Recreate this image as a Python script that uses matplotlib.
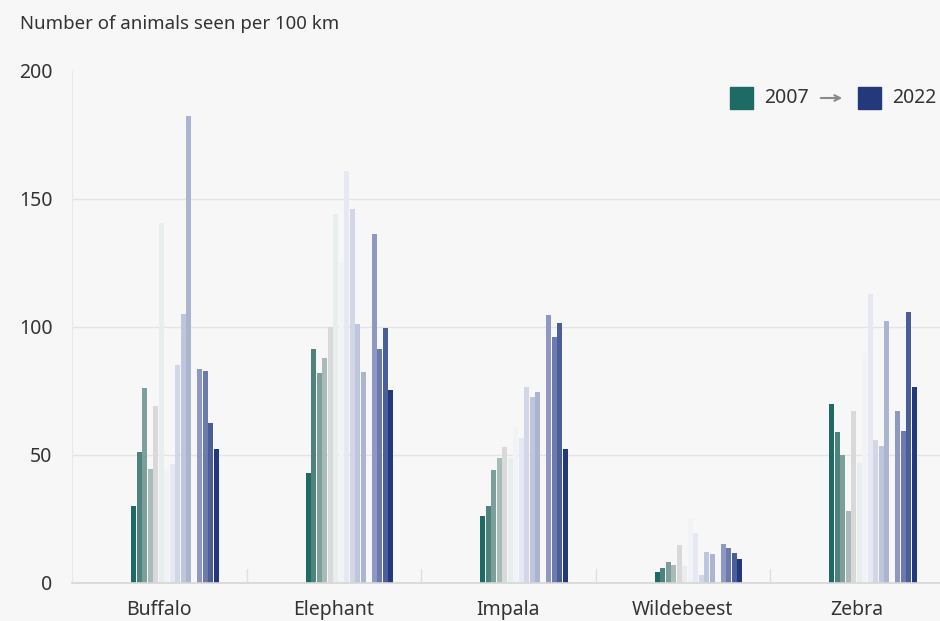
import numpy as np
import matplotlib
matplotlib.use("Agg")
import matplotlib.pyplot as plt
from matplotlib.patches import Rectangle

plt.rcParams['font.family'] = ['Noto Sans', 'DejaVu Sans']

# Data (2007 -> 2022, 2018 missing)
animals = ["Buffalo", "Elephant", "Impala", "Wildebeest", "Zebra"]
years = list(range(2007, 2023))
nan = np.nan
buffalo = [30, 51, 76, 44.5, 69, 140.5, 45, 46.5, 85, 105, 182.5, nan, 83.5, 83, 62.5, 52.3]
elephant = [43, 91.5, 82, 88, 100, 144, 125, 161, 146, 101, 82.5, nan, 136.5, 91.5, 99.5, 75.5]
impala = [26, 30, 44, 49, 53, 49, 61, 56.5, 76.5, 72.5, 74.5, nan, 104.5, 96, 101.5, 52.5]
wildebeest = [4.3, 6, 8.2, 7, 14.8, 6.6, 25, 19.5, 3, 12, 11.3, nan, 15.2, 13.7, 11.7, 9.4]
zebra = [70, 59, 50, 28, 67, 47, 90, 113, 56, 53.5, 102.3, nan, 67, 59.5, 106, 76.5]
yticks = [0, 50, 100, 150, 200]

colors = ["#1e6b65", "#4f827d", "#7c9f9b", "#a8bbb9", "#d9d9d9", "#e7efee",
          "#f1f3f6", "#e6e9f2", "#d2d6e6", "#bfc6dc", "#abb4d0", "#9ca6c8",
          "#8e98c0", "#6c7aad", "#4c5e99", "#23397c"]

bg = "#f7f7f7"
W, H = 940, 621
fig = plt.figure(figsize=(9.4, 6.21), dpi=100, facecolor=bg)
# axes in pixel coords: left 72, right 944.5, bottom 583, top 71
ax = fig.add_axes([72 / W, (H - 583) / H, 872.5 / W, 512 / H], facecolor=bg)

data = np.array([buffalo, elephant, impala, wildebeest, zebra])
slot = 5.5 / 174.5
start = -28.3 / 174.5
x = np.arange(len(animals))
for i, yr in enumerate(years):
    ax.bar(x + start + slot * (i + 0.5), data[:, i], width=slot * 0.86,
           color=colors[i], zorder=2, linewidth=0)

ax.set_xlim(-0.5, 4.5)
ax.set_ylim(0, 200)
ax.set_yticks(yticks)
ax.set_yticklabels([str(t) for t in yticks], fontsize=14, color="#333333")
for t in [50, 100, 150]:
    ax.axhline(t, color="#e4e4e4", lw=1, zorder=1)
ax.tick_params(axis="y", length=0, pad=14)

ax.set_xticks(x)
ax.set_xticklabels(animals, fontsize=14, color="#333333")
ax.tick_params(axis="x", length=0, pad=12)
for b in np.arange(0.5, 4.5, 1):
    ax.plot([b, b], [0, 5.5], color="#e0e0e0", lw=1, zorder=1)

for s in ["top", "right"]:
    ax.spines[s].set_visible(False)
ax.spines["left"].set_color("#e8e8e8")
ax.spines["bottom"].set_color("#d6d6d6")
ax.spines["bottom"].set_linewidth(1.2)

fig.text(20 / W, 1 - 24 / H, "Number of animals seen per 100 km", fontsize=13.4,
         color="#333333", va="center", ha="left")

# legend
def px_rect(x0, y0, w, h, c):
    fig.add_artist(Rectangle((x0 / W, 1 - (y0 + h) / H), w / W, h / H,
                             transform=fig.transFigure, color=c))

px_rect(730, 87, 23, 22, colors[0])
fig.text(764 / W, 1 - 98 / H, "2007", fontsize=14, color="#333333", va="center")
ax.annotate("", xy=(845 / W, 1 - 98 / H), xytext=(818 / W, 1 - 98 / H),
            xycoords="figure fraction", textcoords="figure fraction",
            arrowprops=dict(arrowstyle="->", color="#8a8a8a", lw=1.5))
px_rect(858, 87, 23, 22, colors[-1])
fig.text(892 / W, 1 - 98 / H, "2022", fontsize=14, color="#333333", va="center")

fig.savefig("out.png", dpi=100, facecolor=bg)
